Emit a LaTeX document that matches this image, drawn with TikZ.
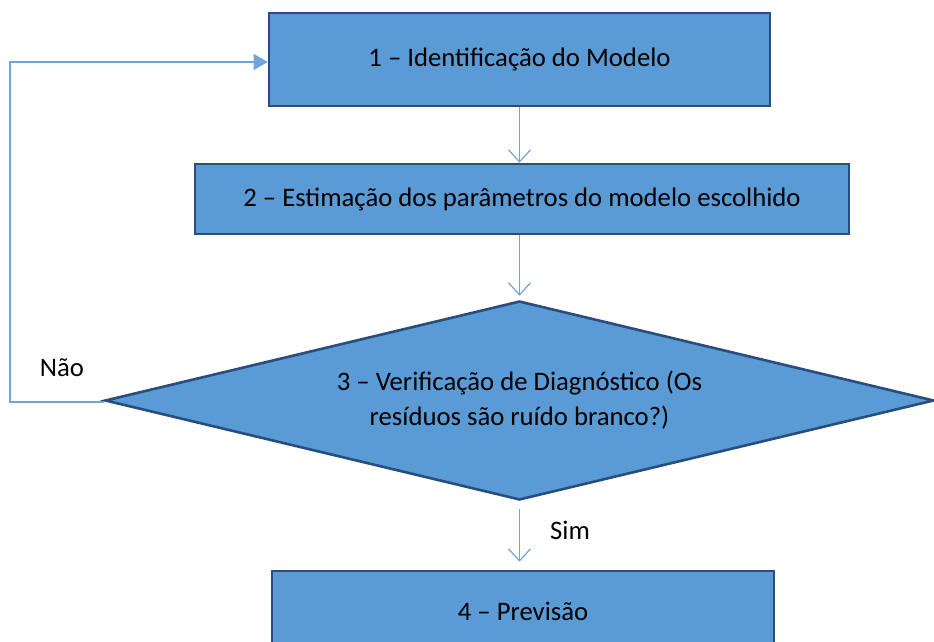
\documentclass[tikz,border=0pt]{standalone}
\usepackage{fontspec}
\setmainfont{Carlito}
\usetikzlibrary{shapes.geometric,arrows.meta}
\definecolor{boxfill}{RGB}{91,155,213}
\definecolor{boxline}{RGB}{40,78,128}
\definecolor{conn}{RGB}{110,165,220}
\tikzset{
  stepbox/.style={draw=boxline, fill=boxfill, line width=2.6pt, inner sep=0pt, font=\fontsize{26.7}{32}\selectfont},
  decision/.style={diamond, aspect=4.17, draw=boxline, fill=boxfill, line width=2.6pt, inner sep=0pt, align=center, font=\fontsize{26.7}{35}\selectfont},
  conn/.style={draw=conn, line width=1.4pt, -{Straight Barb[length=12pt,width=22pt,line width=1.2pt]}},
  loopline/.style={draw=conn, line width=1.2pt, -{Triangle[length=14pt,width=16pt]}},
  lbl/.style={font=\fontsize{26.7}{32}\selectfont, inner sep=0pt}
}
\begin{document}
\begin{tikzpicture}[x=1pt,y=-1pt]
\useasboundingbox (0,0) rectangle (934,642);
\clip (0,0) rectangle (934,642);
\node[stepbox, minimum width=501pt, minimum height=93pt] (b1) at (519.5,59.5) {1 – Identificação do Modelo};
\node[stepbox, minimum width=654pt, minimum height=70pt] (b2) at (522,199) {2 – Estimação dos parâmetros do modelo escolhido};
\node[decision, minimum width=829pt, minimum height=199pt] (d) at (519.5,400.5) {3 – Verificação de Diagnóstico (Os\\resíduos são ruído branco?)};
\node[stepbox, minimum width=502pt, minimum height=80pt] (b4) at (523,611) {4 – Previsão};
\coordinate (lx) at (10,0);
\draw[conn] (b1.south -| d.north) -- (b2.north -| d.north);
\draw[conn, shorten >=4pt] (b2.south -| d.north) -- (d.north);
\draw[conn, shorten <=8pt, shorten >=8pt] (d.south) -- (b4.north -| d.south);
\draw[loopline] ([yshift=-1.5pt]d.west) -- ([yshift=-1.5pt]d.west -| lx) |- ([yshift=-2.5pt]b1.west);
\node[lbl] (no) at (62,368) {Não};
\node[lbl] (yes) at (570,530) {Sim};
\end{tikzpicture}
\end{document}
